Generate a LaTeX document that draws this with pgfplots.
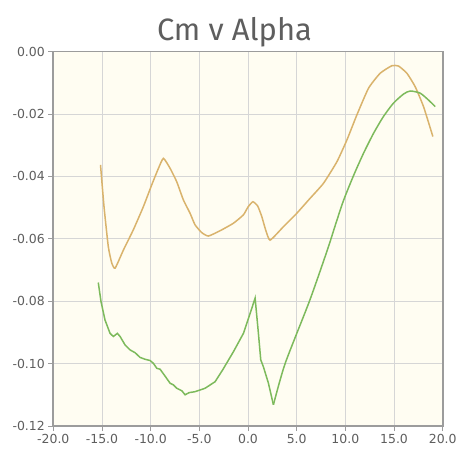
\documentclass[border=0pt]{standalone}
\usepackage{fontspec}
\setmainfont{Fira Sans}
\newfontfamily\tickfont{DejaVu Sans}
\usepackage{pgfplots}
\pgfplotsset{compat=1.18}
\definecolor{bgcream}{HTML}{FFFDF2}
\definecolor{cmorange}{HTML}{D9B36C}
\definecolor{cmgreen}{HTML}{7DBA5C}
\definecolor{txtgray}{HTML}{5E5E5E}
\definecolor{axgray}{HTML}{9C9C9C}
\definecolor{gridgray}{HTML}{D6D6D6}
\begin{document}
\begin{tikzpicture}
\begin{axis}[
  scale only axis,
  width=389.4bp, height=374.3bp,
  at={(0,0)}, anchor=south west,
  xmin=-20, xmax=20, ymin=-0.12, ymax=0,
  xtick={-20,-15,...,20},
  ytick={-0.12,-0.10,-0.08,-0.06,-0.04,-0.02,0},
  grid=major,
  major grid style={draw=gridgray, line width=0.8bp},
  axis background/.style={fill=bgcream},
  axis line style={draw=axgray, line width=1.6bp},
  tick align=outside,
  major tick length=5bp,
  tick style={draw=axgray, line width=0.8bp},
  xtick pos=bottom, ytick pos=left,
  tick label style={text=txtgray},
  /pgf/number format/assume math mode=true,
  xticklabel={\tickfont\fontsize{12.5}{15}\selectfont\pgfmathprintnumber[fixed,fixed zerofill,precision=1,assume math mode=true]{\tick}},
  yticklabel={\tickfont\fontsize{12.5}{15}\selectfont\pgfmathprintnumber[fixed,fixed zerofill,precision=2,assume math mode=true]{\tick}},
  scaled y ticks=false,
  clip=true,
]
\addplot[cmorange, line width=1.5bp, smooth, tension=0.3] coordinates {
(-15.15,-0.0363) (-14.79,-0.0497) (-14.35,-0.0625) (-14.0,-0.0677) (-13.65,-0.0694)
(-12.8,-0.0636) (-11.78,-0.0571) (-10.75,-0.0497) (-9.89,-0.0427) (-9.2,-0.0374)
(-8.69,-0.0342) (-8.0,-0.0374) (-7.32,-0.0417) (-6.64,-0.0475) (-5.95,-0.0518)
(-5.44,-0.0555) (-4.75,-0.0580) (-4.07,-0.0591) (-2.87,-0.0574) (-1.5,-0.0550)
(-0.47,-0.0523) (0.0,-0.0498) (0.5,-0.0481) (1.0,-0.0495) (1.42,-0.0529)
(1.8,-0.0570) (2.27,-0.0604) (3.64,-0.0561) (5.01,-0.0518) (6.38,-0.0470)
(7.75,-0.0422) (9.13,-0.0353) (10.16,-0.0283) (11.18,-0.0203) (12.38,-0.0117)
(13.58,-0.0069) (14.78,-0.0045) (15.46,-0.0046) (16.32,-0.0069) (17.17,-0.0112)
(18.03,-0.0176) (18.99,-0.0272)
};
\addplot[cmgreen, line width=1.5bp] coordinates {
(-15.38,-0.0740) (-15.1,-0.0801) (-14.69,-0.0860) (-14.17,-0.0903) (-13.83,-0.0913)
(-13.42,-0.0903) (-13.14,-0.0913) (-12.63,-0.0940) (-12.12,-0.0956) (-11.6,-0.0965)
(-11.09,-0.0980) (-10.58,-0.0986) (-10.06,-0.0990) (-9.72,-0.0999) (-9.37,-0.1015)
(-9.03,-0.1018) (-8.52,-0.1040) (-8.0,-0.1063) (-7.67,-0.1068) (-7.32,-0.1079)
(-6.8,-0.1087) (-6.46,-0.1100) (-6.05,-0.1093) (-5.44,-0.1090) (-4.41,-0.1079)
(-3.38,-0.1058) (-2.6,-0.1020) (-1.5,-0.0962) (-0.47,-0.0903) (0.22,-0.0839)
(0.73,-0.0790) (1.07,-0.0903) (1.31,-0.0988) (1.58,-0.1010) (2.1,-0.1063)
(2.61,-0.1132)
};
\addplot[cmgreen, line width=1.5bp, smooth, tension=0.4] coordinates {
(2.61,-0.1132) (3.81,-0.1000) (6.31,-0.0800) (8.16,-0.0635) (8.95,-0.0558)
(9.8,-0.0478) (10.83,-0.0398) (11.86,-0.0326) (12.89,-0.0262) (13.91,-0.0208)
(14.94,-0.0165) (15.97,-0.0136) (16.66,-0.0126) (17.69,-0.0133) (18.54,-0.0155)
(19.23,-0.0176)
};
\end{axis}
\node[anchor=base, font=\fontsize{31}{36}\selectfont, text=txtgray, inner sep=0pt] at (181.2bp,385.3bp) {Cm v Alpha};
\pgfresetboundingbox
\path[use as bounding box] (-53.3bp,-40bp) rectangle (415.7bp,426bp);
\end{tikzpicture}
\end{document}
